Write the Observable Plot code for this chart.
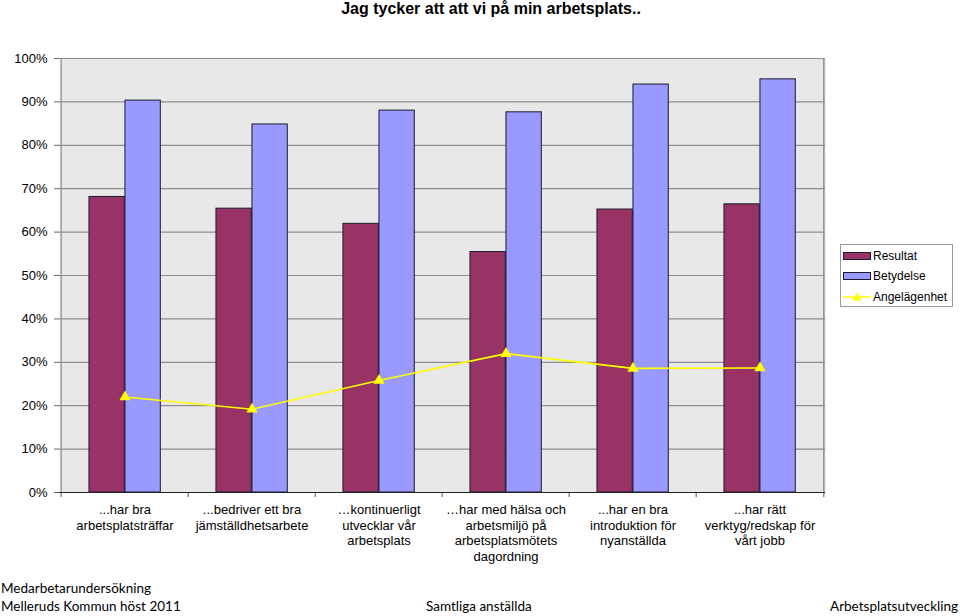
<!DOCTYPE html>
<html>
<head>
<meta charset="utf-8">
<script src="https://cdn.jsdelivr.net/npm/d3@7"></script>
<script src="https://cdn.jsdelivr.net/npm/@observablehq/plot@0.6"></script>
<style>
  html, body { margin: 0; padding: 0; background: #fff; }
  #wrap { position: relative; width: 960px; height: 616px; overflow: hidden; font-family: "Liberation Sans", Arial, sans-serif; }
  #title { position: absolute; left: 0; width: 982px; top: 0px; text-align: center; font-weight: bold; font-size: 16px; line-height: 17px; color: #000; }
  #legend { position: absolute; left: 840px; top: 244px; width: 111px; height: 61px; border: 1px solid #9a9a9a; background: #fff; font-size: 12px; }
  .li { position: absolute; left: 2px; height: 20px; line-height: 20px; display: flex; align-items: center; }
  .li svg { flex: none; }
  .li span { margin-left: 1px; }
  .foot { position: absolute; font-family: Lato, "Open Sans", sans-serif; font-size: 13.5px; color: #000; white-space: nowrap; }
</style>
</head>
<body>
<div id="wrap">
  <div id="chart"></div>
  <div id="title">Jag tycker att att vi på min arbetsplats..</div>
  <div id="legend"></div>
  <div class="foot" style="left:1px; top:580px;">Medarbetarundersökning</div>
  <div class="foot" style="left:1px; top:598px;">Melleruds Kommun höst 2011</div>
  <div class="foot" style="left:426px; top:598px;">Samtliga anställda</div>
  <div class="foot" style="right:2px; top:598px;">Arbetsplatsutveckling</div>
</div>
<script>
const categories = [
  "...har bra\narbetsplatsträffar",
  "...bedriver ett bra\njämställdhetsarbete",
  "\u2026kontinuerligt\nutvecklar vår\narbetsplats",
  "\u2026har med hälsa och\narbetsmiljö på\narbetsplatsmötets\ndagordning",
  "...har en bra\nintroduktion för\nnyanställda",
  "...har rätt\nverktyg/redskap för\nvårt jobb"
];
const resultat     = [0.681, 0.654, 0.619, 0.554, 0.652, 0.664];
const betydelse    = [0.903, 0.848, 0.880, 0.876, 0.940, 0.952];
const angelagenhet = [0.220, 0.192, 0.258, 0.320, 0.286, 0.287];
const yTicks = [0, 0.1, 0.2, 0.3, 0.4, 0.5, 0.6, 0.7, 0.8, 0.9, 1.0];
const seriesNames = ["Resultat", "Betydelse", "Angelägenhet"];
const seriesColors = ["#993366", "#9999ff", "#ffff00"];

const rows = categories.map((c, i) => ({category: c, resultat: resultat[i], betydelse: betydelse[i], angelagenhet: angelagenhet[i]}));

const W = 960, H = 616;
const mL = 59, mR = 135, mT = 58, mB = 124;
const bw = (W - mL - mR) / categories.length;

const chart = Plot.plot({
  width: W,
  height: H,
  marginLeft: mL,
  marginRight: mR,
  marginTop: mT,
  marginBottom: mB,
  style: {fontFamily: "'Liberation Sans', Arial, sans-serif", fontSize: "13px", color: "#000", background: "transparent"},
  x: {type: "band", domain: categories, padding: 0},
  y: {domain: [0, 1]},
  marks: [
    Plot.frame({fill: "#e8e8e8", stroke: null}),
    Plot.gridY(yTicks, {stroke: "#8f8f8f", strokeOpacity: 1, strokeWidth: 1.2}),
    Plot.ruleX([categories[categories.length - 1]], {dx: bw / 2, stroke: "#8f8f8f", strokeWidth: 1.5}),
    Plot.barY(rows, {x: "category", y: "resultat", fill: seriesColors[0], stroke: "#1b1b2e", strokeWidth: 1,
      insetLeft: bw * 0.219, insetRight: bw * 0.499}),
    Plot.barY(rows, {x: "category", y: "betydelse", fill: seriesColors[1], stroke: "#1b1b2e", strokeWidth: 1,
      insetLeft: bw * 0.501, insetRight: bw * 0.217}),
    Plot.line(rows, {x: "category", y: "angelagenhet", stroke: seriesColors[2], strokeWidth: 1.6}),
    Plot.dot(rows, {x: "category", y: "angelagenhet", symbol: "triangle", r: 4.2, fill: seriesColors[2], stroke: null}),
    Plot.ruleX(categories, {dx: -bw / 2, y1: 0, y2: 0, insetBottom: -5, stroke: "#555"}),
    Plot.ruleX([categories[categories.length - 1]], {dx: bw / 2, y1: 0, y2: 0, insetBottom: -5, stroke: "#555"}),
    Plot.ruleY([0], {stroke: "#222", strokeWidth: 1.2}),
    Plot.axisY(yTicks, {tickFormat: d => Math.round(d * 100) + "%", tickSize: 5, tickPadding: 7, stroke: "#666", fontSize: 13, label: null}),
    Plot.ruleX([categories[0]], {dx: -bw / 2, stroke: "#8f8f8f", strokeWidth: 1.2}),
    Plot.axisX({tickSize: 0, tickPadding: 11, fontSize: 13, lineHeight: 1.19, label: null, textAnchor: "middle"})
  ]
});
document.getElementById("chart").appendChild(chart);

// legend
const legend = document.getElementById("legend");
seriesNames.forEach((name, i) => {
  const item = document.createElement("div");
  item.className = "li";
  item.style.top = (i * 20.5 + 0.5) + "px";
  let sw;
  if (i < 2) {
    sw = `<svg width="29" height="10"><rect x="0.5" y="1.5" width="27" height="7" fill="${seriesColors[i]}" stroke="#1b1b2e"/></svg>`;
  } else {
    sw = `<svg width="29" height="10"><line x1="0" y1="5" x2="28" y2="5" stroke="${seriesColors[i]}" stroke-width="1.5"/><path d="M14,0.5 L18.5,8.5 L9.5,8.5 Z" fill="${seriesColors[i]}"/></svg>`;
  }
  item.innerHTML = sw + `<span>${name}</span>`;
  legend.appendChild(item);
});
</script>
</body>
</html>
